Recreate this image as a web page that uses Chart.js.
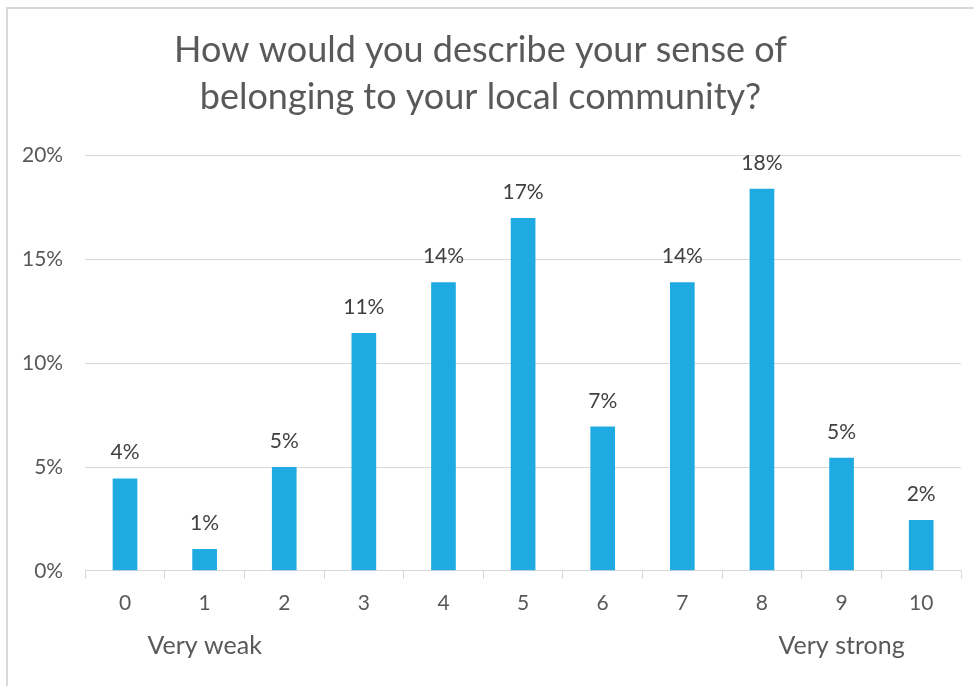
<!DOCTYPE html>
<html>
<head>
<meta charset="utf-8">
<script src="https://cdn.jsdelivr.net/npm/chart.js@4"></script>
<style>
  html, body { margin: 0; padding: 0; background: #fff; overflow: hidden; }
  #frame { position: absolute; left: 6px; top: 7px; width: 1000px; height: 700px; border: 2px solid #d9d9d9; }
  #wrap { position: absolute; left: 0; top: 0; width: 974px; height: 686px; }
</style>
</head>
<body>
<div id="frame"></div>
<div id="wrap"><canvas id="chart" width="974" height="686"></canvas></div>
<script>
// -------------------- Data --------------------
const categories = ["0", "1", "2", "3", "4", "5", "6", "7", "8", "9", "10"];
const endLabels = ["", "Very weak", "", "", "", "", "", "", "", "Very strong", ""];
const shares = [4.45, 1.05, 5.0, 11.45, 13.9, 17.0, 6.95, 13.9, 18.4, 5.45, 2.45];
const shareLabels = ["4%", "1%", "5%", "11%", "14%", "17%", "7%", "14%", "18%", "5%", "2%"];
const yTicks = [0, 5, 10, 15, 20];

const FONT = "Lato, 'Open Sans', sans-serif";
const GREY = "#595959";

// -------------------- Labels above bars --------------------
const barLabels = {
  id: "barLabels",
  afterDatasetsDraw(chart) {
    const ctx = chart.ctx;
    const meta = chart.getDatasetMeta(0);
    ctx.save();
    ctx.font = "21px " + FONT;
    ctx.fillStyle = "#404040";
    ctx.textAlign = "center";
    ctx.textBaseline = "alphabetic";
    meta.data.forEach((bar, i) => {
      ctx.fillText(shareLabels[i], bar.x, bar.y - 19);
    });
    ctx.restore();
  }
};

// -------------------- Chart --------------------
new Chart(document.getElementById("chart"), {
  type: "bar",
  data: {
    labels: categories,
    datasets: [{
      data: shares,
      backgroundColor: "#1fabe2",
      borderWidth: 0,
      categoryPercentage: 1,
      barPercentage: 0.31
    }]
  },
  options: {
    responsive: false,
    animation: false,
    layout: { padding: { left: 0, right: 13, top: 0, bottom: 22 } },
    plugins: {
      legend: { display: false },
      tooltip: { enabled: false },
      title: {
        display: true,
        text: ["How would you describe your sense of", "belonging to your local community?"],
        color: GREY,
        font: { family: FONT, size: 36, weight: "normal", lineHeight: 1.3 },
        padding: { top: 27, bottom: 35 }
      }
    },
    scales: {
      x: {
        grid: { display: true, drawOnChartArea: false, drawTicks: true, tickLength: 8, color: "#d9d9d9", offset: true },
        border: { color: "#d9d9d9", width: 1 },
        ticks: { color: GREY, font: { family: FONT, size: 21 }, padding: 12, maxRotation: 0, autoSkip: false }
      },
      x2: {
        type: "category",
        position: "bottom",
        labels: endLabels,
        grid: { display: false, drawTicks: false },
        border: { display: false },
        ticks: { color: GREY, font: { family: FONT, size: 25 }, padding: 3, maxRotation: 0, autoSkip: false }
      },
      y: {
        min: 0,
        max: 20,
        afterBuildTicks: axis => { axis.ticks = yTicks.map(v => ({ value: v })); },
        grid: { color: "#d9d9d9", drawTicks: false },
        border: { display: false },
        ticks: { color: GREY, font: { family: FONT, size: 21 }, padding: 22, callback: v => v + "%" }
      }
    }
  },
  plugins: [barLabels]
});
</script>
</body>
</html>
